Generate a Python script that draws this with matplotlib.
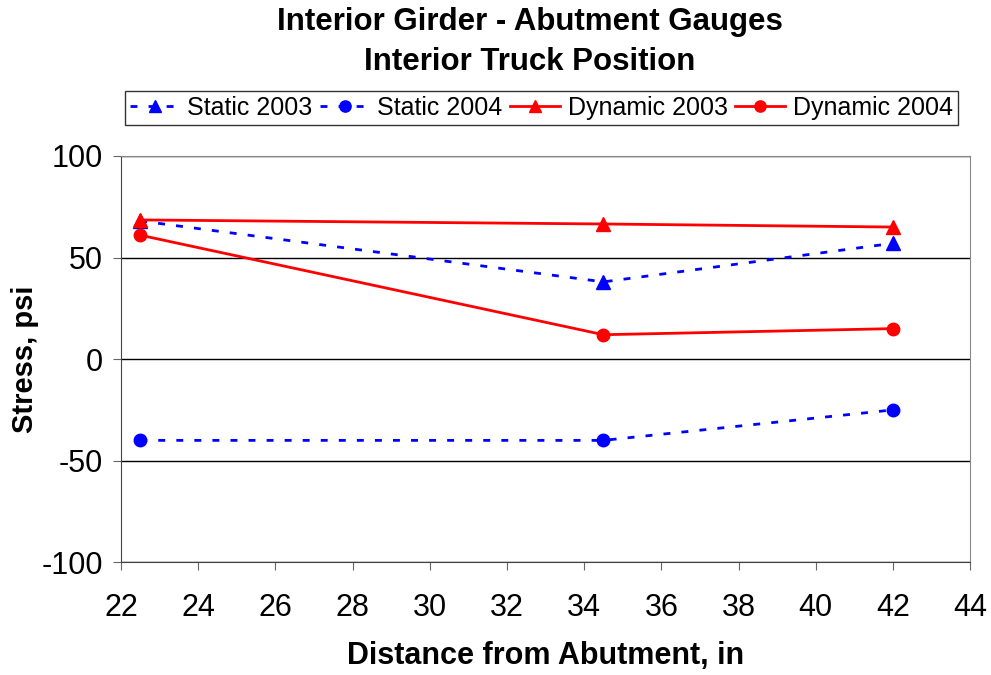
import matplotlib.pyplot as plt

# data
distance = [22.5, 34.5, 42]
static_2003 = [68, 38, 57]
static_2004 = [-40, -40, -25]
dynamic_2003 = [68.5, 66.5, 65]
dynamic_2004 = [61, 12, 15]

plt.rcParams['font.family'] = ['Liberation Sans', 'DejaVu Sans']
plt.rcParams['axes.unicode_minus'] = False

fig = plt.figure(figsize=(9.91, 6.75), dpi=100)
ax = fig.add_axes([0.122, 0.167, 0.857, 0.602])

dots = (0, (2.5, 4))
ax.plot(distance, static_2003, color='blue', linestyle=dots, linewidth=2,
        marker='^', markersize=10, label='Static 2003')
ax.plot(distance, static_2004, color='blue', linestyle=dots, linewidth=2,
        marker='o', markersize=9, label='Static 2004')
ax.plot(distance, dynamic_2003, color='red', linewidth=2,
        marker='^', markersize=10, label='Dynamic 2003')
ax.plot(distance, dynamic_2004, color='red', linewidth=2,
        marker='o', markersize=9, label='Dynamic 2004')

ax.set_xlim(22, 44)
ax.set_ylim(-100, 100)
ax.set_xticks(range(22, 45, 2))
ax.set_yticks([-100, -50, 0, 50, 100])
ax.yaxis.grid(True, color='black', linewidth=1)
ax.set_axisbelow(True)
ax.tick_params(labelsize=22, direction='out', length=6, color='#666666')
ax.tick_params(axis='x', pad=16)
ax.tick_params(axis='y', pad=7)
for s in ['top', 'right']:
    ax.spines[s].set_color('#888888')
ax.spines['left'].set_color('#444444')
ax.spines['bottom'].set_color('#444444')

ax.set_xlabel('Distance from Abutment, in', fontsize=22, fontweight='bold', labelpad=13)
ax.set_ylabel('Stress, psi', fontsize=21, fontweight='bold', labelpad=2)

fig.text(0.535, 0.99, 'Interior Girder - Abutment Gauges\nInterior Truck Position',
         ha='center', va='top', fontsize=22.5, fontweight='bold', linespacing=1.45)

leg = fig.legend(loc='center', bbox_to_anchor=(0.546, 0.84), ncol=4, frameon=True,
                 fancybox=False, edgecolor='black', fontsize=18,
                 handlelength=2.0, handletextpad=0.3, columnspacing=0.3,
                 borderpad=0.2, borderaxespad=0, markerscale=0.9)
leg.get_frame().set_linewidth(1)

fig.savefig('out.png', dpi=100)
